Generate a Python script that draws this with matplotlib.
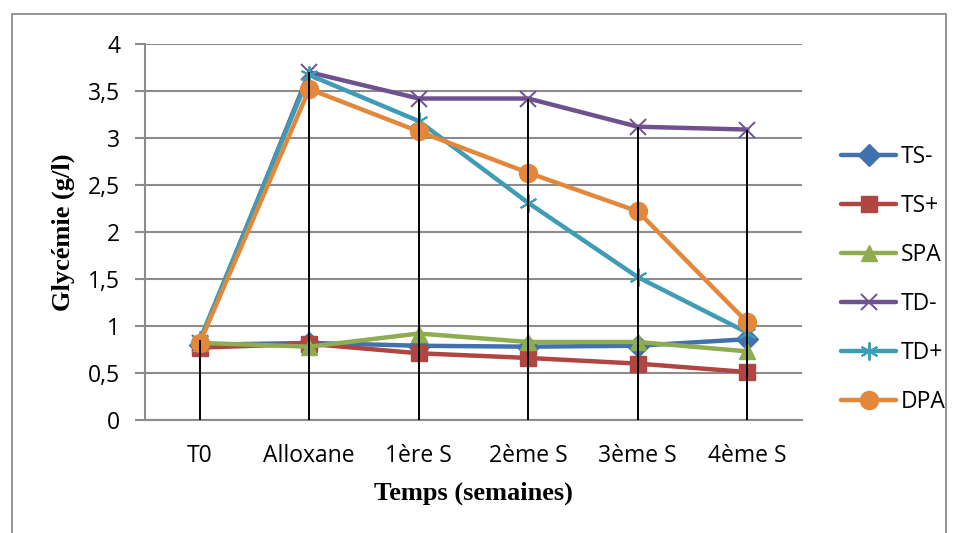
import matplotlib.pyplot as plt
from matplotlib.patches import Rectangle
from matplotlib.ticker import FuncFormatter

# glycémie moyenne (g/l) par lot
semaines = ["T0", "Alloxane", "1ère S", "2ème S", "3ème S", "4ème S"]
ts_moins = [0.80, 0.82, 0.79, 0.78, 0.79, 0.86]
ts_plus = [0.77, 0.81, 0.71, 0.66, 0.60, 0.51]
spa = [0.82, 0.78, 0.92, 0.83, 0.83, 0.73]
td_moins = [0.82, 3.70, 3.42, 3.42, 3.12, 3.09]
td_plus = [0.85, 3.67, 3.18, 2.31, 1.52, 0.93]
dpa = [0.82, 3.52, 3.07, 2.63, 2.22, 1.04]

series = [
    ("TS-", ts_moins, "#4272AE", "D", 11),
    ("TS+", ts_plus, "#B04542", "s", 12),
    ("SPA", spa, "#8DAD50", "^", 12),
    ("TD-", td_moins, "#70518F", "x", 12),
    ("TD+", td_plus, "#3E9DB4", "*", 13),
    ("DPA", dpa, "#E3873A", "o", 13),
]

plt.rcParams['font.family'] = ['Open Sans', 'DejaVu Sans']

fig = plt.figure(figsize=(9.58, 5.33), dpi=100)
ax = fig.add_axes([145 / 958, 113 / 533, 657 / 958, 376 / 533])

x = list(range(len(semaines)))
for name, vals, col, mk, ms in series:
    if mk == "*":
        # astérisque à 6 branches
        ax.plot(x, vals, color=col, lw=3.2, marker=(6, 2, 0), ms=ms, mew=1.4,
                mec=col, label=name, zorder=3, solid_capstyle='round')
    elif mk == "x":
        ax.plot(x, vals, color=col, lw=3.2, marker=mk, ms=ms, mew=1.4,
                label=name, zorder=3, solid_capstyle='round')
    else:
        ax.plot(x, vals, color=col, lw=3.2, marker=mk, ms=ms, mec=col,
                label=name, zorder=3, solid_capstyle='round')

# lignes de projection depuis la valeur max de chaque point
tops = [max(v) for v in zip(ts_moins, ts_plus, spa, td_moins, td_plus, dpa)]
ax.vlines(x, 0, tops, colors="black", lw=1.4, zorder=4)

ax.set_xlim(-0.5, len(semaines) - 0.5)
ax.set_ylim(0, 4)
ax.set_yticks([0, 0.5, 1, 1.5, 2, 2.5, 3, 3.5, 4])
ax.yaxis.set_major_formatter(FuncFormatter(lambda v, p: ("%g" % v).replace(".", ",")))
ax.set_xticks(x)
ax.set_xticklabels(semaines)
ax.yaxis.grid(True, color="#8C8C8C", lw=1.5)
ax.set_axisbelow(True)
for s in ["top", "right"]:
    ax.spines[s].set_visible(False)
for s in ["left", "bottom"]:
    ax.spines[s].set_color("#8C8C8C")
    ax.spines[s].set_linewidth(1.5)
ax.tick_params(axis="y", colors="#8C8C8C", labelcolor="black", length=7, width=1.5,
               labelsize=16.5, pad=11)
ax.tick_params(axis="x", length=0, labelsize=16.5, pad=17)

ax.set_ylabel("Glycémie (g/l)", family="Liberation Serif", fontweight="bold", fontsize=19, labelpad=9)
ax.set_xlabel("Temps (semaines)", family="Liberation Serif", fontweight="bold", fontsize=19, labelpad=10)

ax.legend(loc="center left", bbox_to_anchor=(841 / 958, 0.476), bbox_transform=fig.transFigure,
          frameon=False, fontsize=16.5, handlelength=2.4, labelspacing=1.09,
          handletextpad=0.2, borderpad=0, borderaxespad=0)

# cadre du graphique
fig.patches.append(Rectangle((12 / 958, -0.05), 934 / 958, 1.05 - 14 / 533, transform=fig.transFigure,
                             fill=False, edgecolor="#8C8C8C", lw=1.3))

fig.savefig("out.png", dpi=100)
